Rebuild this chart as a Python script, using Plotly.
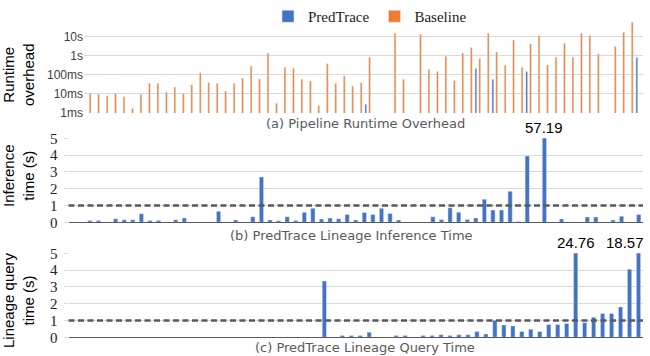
import plotly.graph_objects as go

BLUE = "#4472C4"
ORANGE = "#ED7D31"
GRID = "#D9D9D9"

# (a) runtime overhead in milliseconds, 66 pipelines (None = no visible bar)
top_cats = list(range(66))
predtrace_ms = [None] * 66
for k, v in {33: 2.9, 46: 218, 48: 58, 52: 150, 65: 830}.items():
    predtrace_ms[k] = v
baseline_ms = [
    10.7, 9.7, 8, 10.7, 7, 1.7, 9.7, 36, 36, 12.3,
    23, 10.5, 30, 129, 40, 36, 14, 36, 68, 290,
    60, 1380, 3.2, 252, 218, 59, 47, 2.5, 375, 35,
    88, 26, 40, 830, None, None, 14800, 58, None, 13200,
    193, 148, 950, 51, 1380, 2700, 715, 14800, 1560, 325,
    6600, 248, 4100, 11800, 325, 830, 4500, 830, 14800, 11700,
    1230, None, 3000, 16800, 56000, None,
]
top_ticks = [1, 10, 100, 1000, 10000, 100000]
top_ticktext = ["1ms", "10ms", "100ms", "1s", "10s", ""]

# (b) lineage inference time in seconds, 67 slots
inf_cats = list(range(67))
inference_s = [
    None, None,
    0.1, 0.1, None, 0.21, 0.15, 0.15, 0.51, 0.1, 0.1, None,
    0.15, 0.26, None, None, None, 0.66, None, 0.14, None, 0.33,
    2.7, 0.14, 0.09, 0.33, 0.1, 0.6, 0.84, 0.19, 0.26, 0.21,
    0.46, 0.14, 0.58, 0.46, 0.83, 0.52, 0.14, None, None, None,
    0.33, 0.16, 0.87, 0.6, 0.16, 0.26, 1.37, 0.73, 0.73, 1.85,
    0.05, 3.95, None, 57.19, None, 0.2, None, None, 0.32, 0.32,
    None, 0.13, 0.36, None, 0.46,
]

# (c) lineage query time in seconds, 64 slots
query_cats = list(range(64))
query_s = [None] * 28 + [
    3.35, None, 0.1, 0.1, 0.1, 0.3, None, None, 0.1, 0.1,
    None, 0.1, 0.1, 0.15, 0.1, 0.15, 0.15, 0.34, 0.2, 1.02,
    0.73, 0.68, 0.35, 0.48, 0.34, 0.76, 0.76, 0.82, 24.76, 0.87,
    1.2, 1.42, 1.42, 1.81, 4.05, 18.57,
]
lin_ticks = [0, 1, 2, 3, 4, 5]

W, H = 650, 356


def px_y(top, bottom):
    return [1 - bottom / H, 1 - top / H]


fig = go.Figure()
fig.add_trace(go.Bar(x=top_cats, y=predtrace_ms, name="PredTrace", marker_color=BLUE,
                     width=0.21, offset=-0.33, xaxis="x", yaxis="y"))
fig.add_trace(go.Bar(x=top_cats, y=baseline_ms, name="Baseline", marker_color=ORANGE,
                     width=0.21, offset=0.12, xaxis="x", yaxis="y"))
fig.add_trace(go.Bar(x=inf_cats, y=inference_s, marker_color=BLUE, width=0.5,
                     showlegend=False, xaxis="x2", yaxis="y2"))
fig.add_trace(go.Bar(x=query_cats, y=query_s, marker_color=BLUE, width=0.48,
                     showlegend=False, xaxis="x3", yaxis="y3"))

serif_ticks = dict(family="Liberation Serif", size=15, color="#222")
lin_axis = dict(range=[0, 5], tickvals=lin_ticks, showgrid=True, gridcolor=GRID,
                zeroline=False, ticks="outside", ticklen=4, tickcolor=GRID,
                ticklabelstandoff=3, tickfont=serif_ticks, automargin=False)
cat_axis = dict(showgrid=False, zeroline=False, showticklabels=False, ticks="",
                automargin=False)

fig.update_layout(
    width=W, height=H,
    margin=dict(l=0, r=0, t=0, b=0, pad=0, autoexpand=False),
    plot_bgcolor="white", paper_bgcolor="white",
    barmode="overlay",
    showlegend=True,
    legend=dict(orientation="h", x=268 / W, xanchor="left", y=1, yanchor="top",
                font=dict(family="Liberation Serif", size=15, color="#222"),
                bgcolor="rgba(0,0,0,0)"),
    xaxis=dict(domain=[84 / W, 643 / W], range=[-0.5, 65.5], anchor="y", **cat_axis),
    yaxis=dict(domain=px_y(17.5, 113), type="log", range=[0, 5], anchor="x",
               tickvals=top_ticks, ticktext=top_ticktext, showgrid=True,
               gridcolor=GRID, zeroline=False, ticks="", automargin=False,
               tickfont=dict(family="Liberation Sans", size=12, color="#404040")),
    xaxis2=dict(domain=[68.5 / W, 643 / W], range=[-0.5, 66.5], anchor="y2",
                showline=True, linecolor="#595959", linewidth=1, **cat_axis),
    yaxis2=dict(domain=px_y(138.3, 222.3), anchor="x2", **lin_axis),
    xaxis3=dict(domain=[68.5 / W, 643 / W], range=[-0.5, 63.5], anchor="y3",
                showline=True, linecolor="#595959", linewidth=1, **cat_axis),
    yaxis3=dict(domain=px_y(253.3, 337.3), anchor="x3", **lin_axis),
)

# 1 s threshold lines
for ax in ["2", "3"]:
    fig.add_shape(type="line", xref=f"x{ax} domain", yref=f"y{ax}", x0=0, x1=1, y0=1, y1=1,
                  line=dict(color="#595959", width=2.5, dash="6px,3.5px"), layer="above")

cap_font = dict(family="DejaVu Sans", size=13, color="#595959")
title_font = dict(family="Liberation Sans", size=15, color="#000")
val_font = dict(family="Liberation Sans", size=15, color="#000")

annos = [
    dict(text="(a) Pipeline Runtime Overhead", x=365 / W, y=1 - 124 / H, font=cap_font),
    dict(text="(b) PredTrace Lineage Inference Time", x=351 / W, y=1 - 235 / H, font=cap_font),
    dict(text="(c) PredTrace Lineage Query Time", x=365 / W, y=1 - 347 / H, font=cap_font),
    dict(text="Runtime<br>overhead", x=18 / W, y=1 - 75 / H, textangle=-90, font=title_font),
    dict(text="Inference<br>time (s)", x=18 / W, y=1 - 176 / H, textangle=-90, font=title_font),
    dict(text="Lineage query<br>time (s)", x=18 / W, y=1 - 300 / H, textangle=-90, font=title_font),
]
for a in annos:
    fig.add_annotation(xref="paper", yref="paper", showarrow=False,
                       xanchor="center", yanchor="middle", **a)

fig.add_annotation(text="57.19", x=inf_cats[55], y=5, xref="x2", yref="y2", showarrow=False,
                   yanchor="bottom", font=val_font)
fig.add_annotation(text="24.76", x=query_cats[56], y=5, xref="x3", yref="y3", showarrow=False,
                   yanchor="bottom", font=val_font)
fig.add_annotation(text="18.57", x=query_cats[63], y=5, xref="x3", yref="y3", showarrow=False,
                   yanchor="bottom", xanchor="right", xshift=7, font=val_font)

# the page's default body margin would push the 650x356 figure out of the window
fig.write_html("out.html", config={"displayModeBar": False},
               post_script="document.body.style.margin = '0';")
